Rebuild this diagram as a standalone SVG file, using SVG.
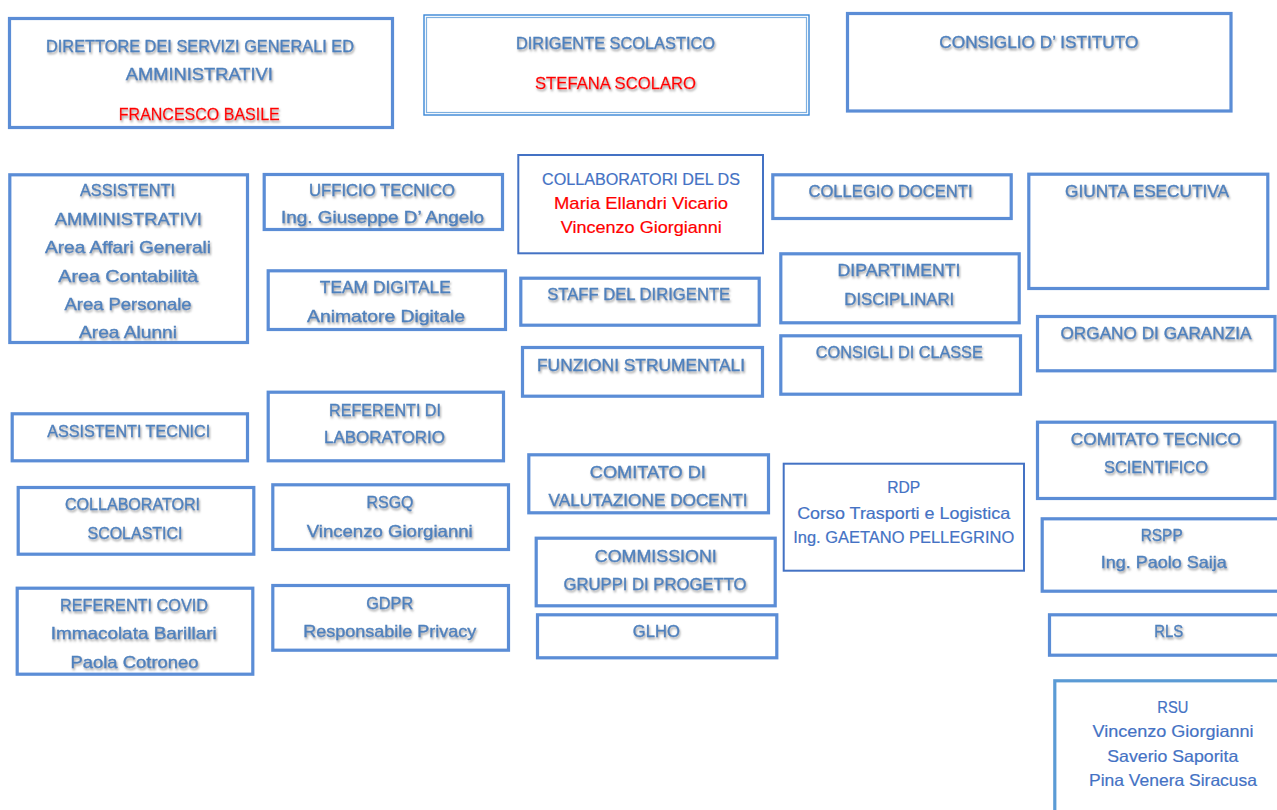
<svg xmlns="http://www.w3.org/2000/svg" width="1277" height="810" viewBox="0 0 1277 810">
<defs>
<filter id="sh" x="-10%" y="-40%" width="120%" height="200%">
<feDropShadow dx="1" dy="2" stdDeviation="1.1" flood-color="#7a7a7a" flood-opacity="0.7"/>
</filter>
</defs>
<style>
.box{fill:#ffffff;stroke:#5B8DD6;stroke-width:3.2}
.thin{fill:#ffffff;stroke:#4472C4;stroke-width:2}
.dbo{fill:#ffffff;stroke:#3A87D6;stroke-width:1.4}
.dbi{fill:none;stroke:#7EB0E0;stroke-width:1.2}
text{font-family:"Liberation Sans",Arial,sans-serif;font-size:17px;text-anchor:middle}
.s{fill:#4F81BD;stroke:#4F81BD;stroke-width:0.35;filter:url(#sh)}
.p{fill:#4472C4;font-size:16.5px;stroke:#4472C4;stroke-width:0.2}
.r{fill:#FF0000;stroke:#FF0000;stroke-width:0.2}
.rs{fill:#FF0000;stroke:#FF0000;stroke-width:0.3;filter:url(#sh)}
</style>
<rect width="1277" height="810" fill="#ffffff"/>
<g id="connectors"/>

<g id="dsga">
<rect class="box" x="9.5" y="18.5" width="383" height="109"/>
<text class="s" x="200" y="52" textLength="308" lengthAdjust="spacingAndGlyphs">DIRETTORE DEI SERVIZI GENERALI ED</text>
<text class="s" x="199.3" y="80" textLength="147" lengthAdjust="spacingAndGlyphs">AMMINISTRATIVI</text>
<text class="rs" x="199.3" y="120" textLength="161" lengthAdjust="spacingAndGlyphs">FRANCESCO BASILE</text>
</g>

<g id="dirigente">
<rect class="dbo" x="424" y="15" width="385" height="100"/>
<rect class="dbi" x="426.5" y="17.5" width="380" height="95"/>
<text class="s" x="615.5" y="49.3" textLength="199" lengthAdjust="spacingAndGlyphs">DIRIGENTE SCOLASTICO</text>
<text class="rs" x="615.5" y="89.3" textLength="161" lengthAdjust="spacingAndGlyphs">STEFANA SCOLARO</text>
</g>

<g id="consiglio-istituto">
<rect class="box" x="847.5" y="13.5" width="383.5" height="97.5"/>
<text class="s" x="1038.8" y="47.7" textLength="199" lengthAdjust="spacingAndGlyphs">CONSIGLIO D’ ISTITUTO</text>
</g>

<g id="assistenti-amministrativi">
<rect class="box" x="9.8" y="174.8" width="237.7" height="167.7"/>
<text class="s" x="127.5" y="196" textLength="95" lengthAdjust="spacingAndGlyphs">ASSISTENTI</text>
<text class="s" x="128.3" y="225" textLength="147" lengthAdjust="spacingAndGlyphs">AMMINISTRATIVI</text>
<text class="s" x="128" y="253.3" textLength="166" lengthAdjust="spacingAndGlyphs">Area Affari Generali</text>
<text class="s" x="128.3" y="281.7" textLength="140" lengthAdjust="spacingAndGlyphs">Area Contabilità</text>
<text class="s" x="128" y="310" textLength="127" lengthAdjust="spacingAndGlyphs">Area Personale</text>
<text class="s" x="128" y="338.3" textLength="98" lengthAdjust="spacingAndGlyphs">Area Alunni</text>
</g>

<g id="ufficio-tecnico">
<rect class="box" x="264.2" y="174.5" width="238.3" height="55"/>
<text class="s" x="382" y="196" textLength="146" lengthAdjust="spacingAndGlyphs">UFFICIO TECNICO</text>
<text class="s" x="382.5" y="223.3" textLength="203" lengthAdjust="spacingAndGlyphs">Ing. Giuseppe D’ Angelo</text>
</g>

<g id="team-digitale">
<rect class="box" x="268.2" y="270.8" width="237.3" height="58.7"/>
<text class="s" x="385.3" y="293.3" textLength="131" lengthAdjust="spacingAndGlyphs">TEAM DIGITALE</text>
<text class="s" x="386" y="321.7" textLength="158" lengthAdjust="spacingAndGlyphs">Animatore Digitale</text>
</g>

<g id="collaboratori-ds">
<rect class="thin" x="518.3" y="155" width="244.7" height="98.3"/>
<text class="p" x="641" y="185" textLength="198" lengthAdjust="spacingAndGlyphs">COLLABORATORI DEL DS</text>
<text class="r" x="641" y="209" textLength="174" lengthAdjust="spacingAndGlyphs" font-size="16.5">Maria Ellandri Vicario</text>
<text class="r" x="641.3" y="233.3" textLength="161" lengthAdjust="spacingAndGlyphs" font-size="16.5">Vincenzo Giorgianni</text>
</g>

<g id="collegio-docenti">
<rect class="box" x="772.8" y="174.8" width="238.4" height="43.7"/>
<text class="s" x="890.5" y="197.3" textLength="164" lengthAdjust="spacingAndGlyphs">COLLEGIO DOCENTI</text>
</g>

<g id="staff-dirigente">
<rect class="box" x="520.8" y="278.2" width="238.4" height="47"/>
<text class="s" x="638.7" y="300" textLength="183" lengthAdjust="spacingAndGlyphs">STAFF DEL DIRIGENTE</text>
</g>

<g id="dipartimenti">
<rect class="box" x="780.8" y="253.8" width="238.4" height="69"/>
<text class="s" x="899" y="276" textLength="123" lengthAdjust="spacingAndGlyphs">DIPARTIMENTI</text>
<text class="s" x="899.3" y="305" textLength="110" lengthAdjust="spacingAndGlyphs">DISCIPLINARI</text>
</g>

<g id="funzioni-strumentali">
<rect class="box" x="522.5" y="347.5" width="240" height="48.7"/>
<text class="s" x="641" y="371" textLength="208" lengthAdjust="spacingAndGlyphs">FUNZIONI STRUMENTALI</text>
</g>

<g id="consigli-classe">
<rect class="box" x="780.8" y="335.8" width="239.7" height="58.4"/>
<text class="s" x="899.3" y="358.3" textLength="167" lengthAdjust="spacingAndGlyphs">CONSIGLI DI CLASSE</text>
</g>

<g id="giunta-esecutiva">
<rect class="box" x="1028.8" y="174.2" width="239" height="114.3"/>
<text class="s" x="1147" y="196.7" textLength="164" lengthAdjust="spacingAndGlyphs">GIUNTA ESECUTIVA</text>
</g>

<g id="organo-garanzia">
<rect class="box" x="1037.5" y="316.5" width="237.5" height="54.3"/>
<text class="s" x="1156" y="339.3" textLength="191" lengthAdjust="spacingAndGlyphs">ORGANO DI GARANZIA</text>
</g>

<g id="assistenti-tecnici">
<rect class="box" x="12.2" y="413.8" width="235.3" height="47"/>
<text class="s" x="128.7" y="437.3" textLength="163" lengthAdjust="spacingAndGlyphs">ASSISTENTI TECNICI</text>
</g>

<g id="referenti-laboratorio">
<rect class="box" x="268.2" y="392.2" width="235.3" height="68.6"/>
<text class="s" x="385" y="415.7" textLength="112" lengthAdjust="spacingAndGlyphs">REFERENTI DI</text>
<text class="s" x="384.5" y="443.3" textLength="121" lengthAdjust="spacingAndGlyphs">LABORATORIO</text>
</g>

<g id="collaboratori-scolastici">
<rect class="box" x="18.2" y="487.5" width="235.6" height="66.7"/>
<text class="s" x="132.5" y="510" textLength="135" lengthAdjust="spacingAndGlyphs">COLLABORATORI</text>
<text class="s" x="135" y="539" textLength="95" lengthAdjust="spacingAndGlyphs">SCOLASTICI</text>
</g>

<g id="rsgq">
<rect class="box" x="272.8" y="484.8" width="235.7" height="64.7"/>
<text class="s" x="390" y="508.3" textLength="47" lengthAdjust="spacingAndGlyphs">RSGQ</text>
<text class="s" x="389.7" y="536.7" textLength="166" lengthAdjust="spacingAndGlyphs">Vincenzo Giorgianni</text>
</g>

<g id="referenti-covid">
<rect class="box" x="17.2" y="588.2" width="235.6" height="86"/>
<text class="s" x="134" y="610.7" textLength="148" lengthAdjust="spacingAndGlyphs">REFERENTI COVID</text>
<text class="s" x="133.7" y="639.3" textLength="166" lengthAdjust="spacingAndGlyphs">Immacolata Barillari</text>
<text class="s" x="134.5" y="668.3" textLength="128" lengthAdjust="spacingAndGlyphs">Paola Cotroneo</text>
</g>

<g id="gdpr">
<rect class="box" x="272.8" y="585.5" width="235.7" height="64.7"/>
<text class="s" x="389.7" y="609.3" textLength="47" lengthAdjust="spacingAndGlyphs">GDPR</text>
<text class="s" x="389.7" y="637.3" textLength="173" lengthAdjust="spacingAndGlyphs">Responsabile Privacy</text>
</g>

<g id="comitato-valutazione">
<rect class="box" x="528.8" y="454.8" width="239.7" height="58"/>
<text class="s" x="647.8" y="478.3" textLength="116" lengthAdjust="spacingAndGlyphs">COMITATO DI</text>
<text class="s" x="648" y="506" textLength="199" lengthAdjust="spacingAndGlyphs">VALUTAZIONE DOCENTI</text>
</g>

<g id="commissioni">
<rect class="box" x="536.2" y="538.2" width="239" height="67.6"/>
<text class="s" x="655.8" y="561.7" textLength="122" lengthAdjust="spacingAndGlyphs">COMMISSIONI</text>
<text class="s" x="655" y="590" textLength="183" lengthAdjust="spacingAndGlyphs">GRUPPI DI PROGETTO</text>
</g>

<g id="glho">
<rect class="box" x="537.5" y="614.8" width="239.3" height="43"/>
<text class="s" x="656.3" y="636.7" textLength="47" lengthAdjust="spacingAndGlyphs">GLHO</text>
</g>

<g id="rdp">
<rect class="thin" x="783.7" y="463.7" width="240.3" height="107"/>
<text class="p" x="903.7" y="493.3" textLength="33" lengthAdjust="spacingAndGlyphs">RDP</text>
<text class="p" x="903.7" y="519" textLength="213" lengthAdjust="spacingAndGlyphs">Corso Trasporti e Logistica</text>
<text class="p" x="903.7" y="542.7" textLength="221" lengthAdjust="spacingAndGlyphs">Ing. GAETANO PELLEGRINO</text>
</g>

<g id="comitato-tecnico-scientifico">
<rect class="box" x="1037.5" y="422.2" width="237.5" height="76.3"/>
<text class="s" x="1155.8" y="445" textLength="170" lengthAdjust="spacingAndGlyphs">COMITATO TECNICO</text>
<text class="s" x="1156" y="472.7" textLength="104" lengthAdjust="spacingAndGlyphs">SCIENTIFICO</text>
</g>

<g id="rspp">
<rect class="box" x="1042.2" y="518.8" width="250" height="72.4"/>
<text class="s" x="1161.7" y="540.7" textLength="42" lengthAdjust="spacingAndGlyphs">RSPP</text>
<text class="s" x="1163.8" y="568.3" textLength="126" lengthAdjust="spacingAndGlyphs">Ing. Paolo Saija</text>
</g>

<g id="rls">
<rect class="box" x="1049.5" y="614.8" width="250" height="40.4"/>
<text class="s" x="1168.8" y="637.3" textLength="29" lengthAdjust="spacingAndGlyphs">RLS</text>
</g>

<g id="rsu">
<rect class="box" x="1054.8" y="680.8" width="250" height="200" style="stroke:#5B9BD5"/>
<text class="p" x="1172.8" y="712.7" textLength="31" lengthAdjust="spacingAndGlyphs">RSU</text>
<text class="p" x="1173" y="737.3" textLength="161" lengthAdjust="spacingAndGlyphs">Vincenzo Giorgianni</text>
<text class="p" x="1172.8" y="761.7" textLength="131" lengthAdjust="spacingAndGlyphs">Saverio Saporita</text>
<text class="p" x="1173" y="786" textLength="168" lengthAdjust="spacingAndGlyphs">Pina Venera Siracusa</text>
</g>
</svg>
